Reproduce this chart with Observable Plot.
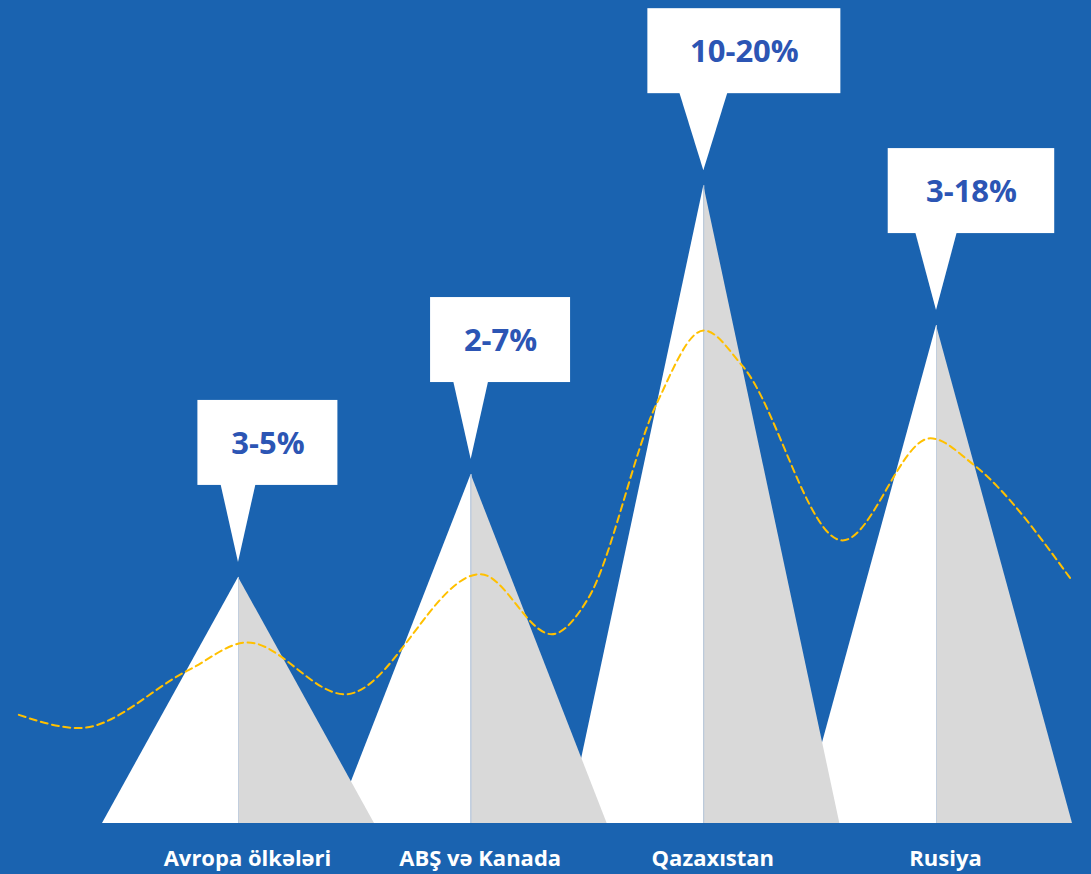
<!DOCTYPE html>
<html>
<head>
<meta charset="utf-8">
<script src="https://cdn.jsdelivr.net/npm/d3@7"></script>
<script src="https://cdn.jsdelivr.net/npm/@observablehq/plot@0.6"></script>
<style>
  html, body { margin: 0; padding: 0; background: #1a63b0; }
  #chart svg { display: block; }
</style>
</head>
<body>
<div id="chart"></div>
<script>
// ---- data ----
const categories = ["Avropa ölkələri", "ABŞ və Kanada", "Qazaxıstan", "Rusiya"];
const ranges = ["3-5%", "2-7%", "10-20%", "3-18%"];
const peaks = [29.9, 42.4, 77.5, 60.5];          // mountain heights (0–100 scale)
// dashed trend curve (x in category index units, y on the 0–100 scale)
const curveX = [-0.944, -0.686, -0.217, 0.039, 0.458, 1.040, 1.346, 1.502, 1.797, 2.000, 2.166, 2.596, 2.974, 3.155, 3.580];
const curveY = [13.2, 11.6, 18.6, 22.0, 15.7, 30.3, 23.0, 27.3, 51.0, 59.9, 55.6, 34.4, 46.8, 43.7, 29.6];

// ---- layout ----
const W = 1091, H = 874;
const mL = 238, mR = 155, mT = 0, mB = 51;
const pxX = (W - mL - mR) / 3;     // pixels per category step
const pxY = (H - mT - mB) / 100;   // pixels per y unit
const halfW = 136 / pxX;           // half base width of a mountain

const BLUE = "#1a63b0", GRAY = "#d9d9d9", GOLD = "#ffc000", TEXT = "#2c55b4";
const FONT = "'Open Sans', 'Noto Sans', sans-serif";

const leftHalves = [], rightHalves = [];
categories.forEach((c, i) => {
  leftHalves.push({i, x: i - halfW, y: 0}, {i, x: i, y: peaks[i]});
  rightHalves.push({i, x: i, y: peaks[i]}, {i, x: i + halfW, y: 0});
});
const centers = categories.map((c, i) => ({i, peak: peaks[i]}));
const curve = curveX.map((x, k) => ({x, y: curveY[k]}));

// callouts
const boxes = [], pointers = [];
ranges.forEach((r, i) => {
  const w = 34 + 26.5 * r.length;               // box width from label length
  const x1 = i - 0.29 * w / pxX, x2 = x1 + w / pxX;
  const bottom = peaks[i] + 92 / pxY, top = bottom + 85 / pxY;
  const tip = peaks[i] + 15 / pxY;
  const ph = 0.125 * w / pxX;
  boxes.push({i, label: r, x1, x2, y1: bottom, y2: top, cx: (x1 + x2) / 2, cy: (bottom + top) / 2});
  const b = bottom + 1 / pxY;
  pointers.push({i, x: i - ph, y1: b, y2: b}, {i, x: i, y1: b, y2: tip}, {i, x: i + ph, y1: b, y2: b});
});
const labels = categories.map((c, i) => ({i, c}));

const chart = Plot.plot({
  width: W, height: H,
  marginLeft: mL, marginRight: mR, marginTop: mT, marginBottom: mB,
  x: {domain: [0, 3], axis: null},
  y: {domain: [0, 100], axis: null},
  style: {background: BLUE, fontFamily: FONT},
  marks: [
    Plot.areaY(leftHalves, {x: "x", y1: 0, y2: "y", z: "i", fill: "white", curve: "linear"}),
    Plot.areaY(rightHalves, {x: "x", y1: 0, y2: "y", z: "i", fill: GRAY, curve: "linear"}),
    Plot.ruleX(centers, {x: "i", y1: 0, y2: "peak", stroke: "#c2cedd", strokeWidth: 1}),
    Plot.line(curve, {x: "x", y: "y", stroke: GOLD, strokeWidth: 2, strokeDasharray: "7,4.5", curve: "monotone-x"}),
    Plot.areaY(pointers, {x: "x", y1: "y1", y2: "y2", z: "i", fill: "white", curve: "linear"}),
    Plot.rect(boxes, {x1: "x1", x2: "x2", y1: "y1", y2: "y2", fill: "white"}),
    Plot.text(boxes, {x: "cx", y: "cy", text: "label", fill: TEXT, fontSize: 31, fontWeight: "bold", fontFamily: FONT, dy: 1}),
    Plot.text(labels, {x: "i", y: 0, text: "c", fill: "white", fontSize: 22, fontWeight: "bold", fontFamily: FONT, dx: 9, dy: 35})
  ]
});
document.getElementById("chart").appendChild(chart);
</script>
</body>
</html>
